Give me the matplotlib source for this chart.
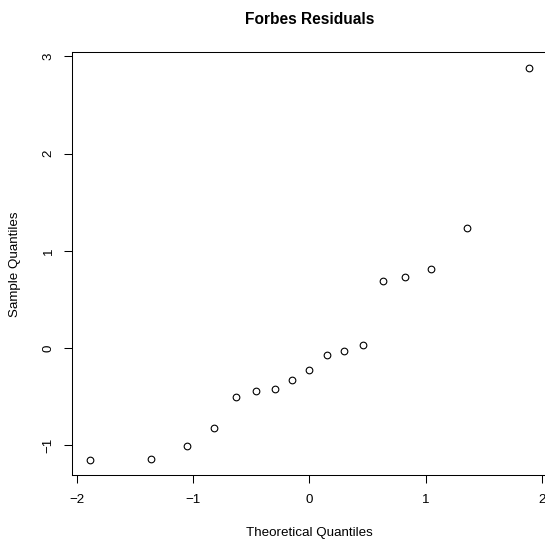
import matplotlib
matplotlib.use("Agg")
import matplotlib.pyplot as plt

plt.rcParams['font.family'] = ['Liberation Sans', 'DejaVu Sans']

# normal Q-Q plot of the Forbes residuals (17 points)
theoretical = [-1.89, -1.36, -1.05, -0.82, -0.63, -0.46, -0.30, -0.15, 0.00,
               0.15, 0.30, 0.46, 0.63, 0.82, 1.05, 1.36, 1.89]
sample = [-1.15, -1.14, -1.01, -0.82, -0.50, -0.44, -0.42, -0.33, -0.23,
          -0.07, -0.03, 0.03, 0.69, 0.73, 0.81, 1.23, 2.88]
xticks = [-2, -1, 0, 1, 2]
yticks = [-1, 0, 1, 2, 3]

fig = plt.figure(figsize=(5.45, 5.42), dpi=100)
ax = fig.add_axes([0.1327, 0.1227, 0.8699, 0.7808])

ax.plot(theoretical, sample, linestyle='none', marker='o', markersize=4.8,
        markerfacecolor='none', markeredgecolor='black', markeredgewidth=0.8)

# R style 4% padding around the data range
xr = max(theoretical) - min(theoretical)
yr = max(sample) - min(sample)
ax.set_xlim(min(theoretical) - 0.04 * xr, max(theoretical) + 0.04 * xr)
ax.set_ylim(min(sample) - 0.04 * yr, max(sample) + 0.04 * yr)

ax.set_xticks(xticks)
ax.set_yticks(yticks)
ax.set_xticklabels([str(t).replace('-', '\u2212') for t in xticks])
ax.set_yticklabels([str(t).replace('-', '\u2212') for t in yticks],
                   rotation=90, va='center')
ax.tick_params(direction='out', length=5.8, width=0.75, labelsize=9.6,
               color='black')
ax.tick_params(axis='x', pad=7.4)
ax.tick_params(axis='y', pad=6.8)

for s in ax.spines.values():
    s.set_linewidth(0.75)
    s.set_color('black')

ax.set_xlabel('Theoretical Quantiles', fontsize=9.6, va='center')
ax.xaxis.set_label_coords(0.5, -0.1359)
ax.set_ylabel('Sample Quantiles', fontsize=9.6, va='center')
ax.yaxis.set_label_coords(-0.1209, 0.5)

fig.text(310 / 545, 1 - 19 / 542, 'Forbes Residuals', fontsize=11.2,
         fontweight='bold', ha='center', va='center')

fig.savefig('out.png', dpi=100)
